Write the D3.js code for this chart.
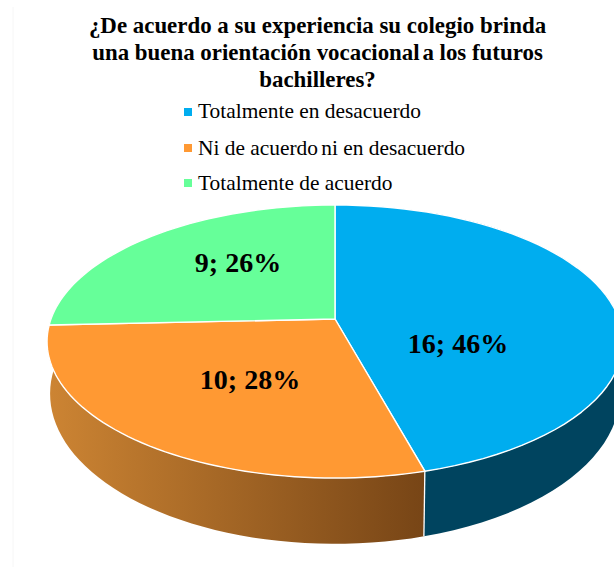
<!DOCTYPE html>
<html><head><meta charset="utf-8">
<script src="https://cdn.jsdelivr.net/npm/d3@7"></script>
<style>html,body{margin:0;padding:0;background:#fff}svg{display:block}text{font-family:"Liberation Serif",serif;fill:#000}</style>
</head><body><script>
const titleLines = [["¿De acuerdo a su experiencia su colegio brinda"],["una buena orientación vocacional"," a los futuros"],["bachilleres?"]];
const categories = [["Totalmente en desacuerdo"],["Ni de acuerdo"," ni en desacuerdo"],["Totalmente de acuerdo"]];
const values = [16,10,9];
const percents = ["46%","28%","26%"];
const colors = ["#00ADEF","#FF9933","#66FF99"];

const W=614,H=567;
const svg=d3.select("body").append("svg").attr("width",W).attr("height",H);
svg.append("line").attr("x1",13).attr("x2",13).attr("y1",7).attr("y2",H).attr("stroke","#f6f6f6");
const defs=svg.append("defs");
const g=defs.append("linearGradient").attr("id","og").attr("gradientUnits","userSpaceOnUse").attr("x1",50).attr("x2",425).attr("y1",0).attr("y2",0);
g.append("stop").attr("offset",0).attr("stop-color","#CC8433");
g.append("stop").attr("offset",1).attr("stop-color","#774516");

const cx=335,k=0.165;
const rim=(cy,a,b)=>t=>{const X=Math.sin(t),Y=-Math.cos(t),w=1-k*Y;return [cx+a*X/w,cy+b*Y/w];};
const top_=rim(319,284,132.8);
const bot=rim(369,281,146);
const pie=d3.pie().sort(null).value(d=>d)(values);
const line=d3.line();
const samples=(t0,t1)=>d3.range(0,61).map(i=>t0+(t1-t0)*i/60);

const sideFill=["#00445F","url(#og)"];
[0,1].forEach(i=>{
  const s=pie[i];
  const end = i===1 ? s.endAngle+0.6 : s.endAngle;
  const ts=samples(s.startAngle,end);
  svg.append("path").attr("d",line(ts.map(top_).concat(ts.slice().reverse().map(bot)))+"Z").attr("fill",sideFill[i]);
});
{const t=pie[0].endAngle;svg.append("path").attr("d",line([top_(t),bot(t)])).attr("stroke","#fff").attr("stroke-width",1.3).attr("fill","none");}

pie.forEach((s,i)=>{
  const pts=[[cx,cy0()]].concat(samples(s.startAngle,s.endAngle).map(top_));
  svg.append("path").attr("d",line(pts)+"Z").attr("fill",colors[i]).attr("stroke","#fff").attr("stroke-width",1.4).attr("stroke-linejoin","round");
});
function cy0(){return 319;}

function addParts(sel,parts,gap){
  parts.forEach((p,j)=>{const ts=sel.append("tspan").text(p); if(j>0) ts.attr("dx",gap);});
}
const titleY=[33,60,87];
titleLines.forEach((t,i)=>{
  const el=svg.append("text").attr("x",317.5).attr("y",titleY[i]).attr("text-anchor","middle").attr("font-weight","bold").attr("font-size",22.9);
  addParts(el,t,-3);
});
const legY=[112,148,183];
const legBase=[118,155,190];
categories.forEach((c,i)=>{
  svg.append("rect").attr("x",184).attr("y",legY[i]-4).attr("width",8).attr("height",8).attr("fill",colors[i]);
  const el=svg.append("text").attr("x",198).attr("y",legBase[i]).attr("font-size",21.4);
  addParts(el,c,-2);
});
const labPos=[[458,344],[250,380],[238,263]];
pie.forEach((s,i)=>svg.append("text").attr("x",labPos[i][0]).attr("y",labPos[i][1]+9).attr("text-anchor","middle").attr("font-weight","bold").attr("font-size",28).text(values[i]+"; "+percents[i]));
</script></body></html>
